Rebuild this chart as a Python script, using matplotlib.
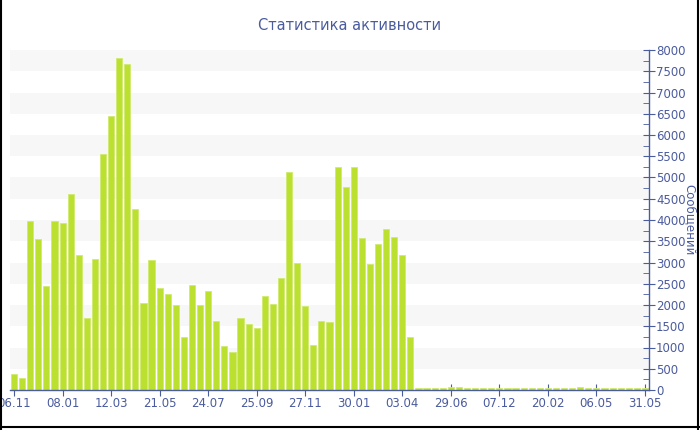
import matplotlib
matplotlib.use("Agg")
import matplotlib.pyplot as plt
from matplotlib.lines import Line2D
import numpy as np

# Message counts per period (79 periods)
messages = [
    370, 275, 3980, 3560, 2450, 3980, 3940, 4620, 3170, 1690,
    3075, 5550, 6450, 7810, 7670, 4250, 2040, 3055, 2410, 2270,
    2010, 1240, 2470, 1990, 2325, 1630, 1035, 905, 1695, 1545,
    1470, 2210, 2025, 2630, 5120, 2980, 1985, 1060, 1630, 1595,
    5240, 4770, 5240, 3570, 2960, 3430, 3780, 3610, 3170, 1240,
    40, 40, 40, 40, 80, 60, 40, 40, 40, 40,
    40, 40, 40, 40, 40, 40, 40, 40, 40, 40,
    60, 40, 40, 40, 40, 40, 40, 40, 40,
]
tick_labels = ["06.11", "08.01", "12.03", "21.05", "24.07", "25.09", "27.11",
               "30.01", "03.04", "29.06", "07.12", "20.02", "06.05", "31.05"]
title = "Статистика активности"
ylabel = "Сообщений"

W, H = 700, 430
fig = plt.figure(figsize=(7, 4.3), dpi=100)
fig.patch.set_facecolor("white")
ax_left, ax_right, ax_top, ax_bottom = 10, 649, 50, 390
ax = fig.add_axes([ax_left / W, 1 - ax_bottom / H, (ax_right - ax_left) / W,
                   (ax_bottom - ax_top) / H])

blue = "#4a5b9e"
bar_color = "#bce030"

n = len(messages)
x = np.arange(n)

ax.set_xlim(-0.5, n - 0.5)
ax.set_ylim(0, 8000)

# alternating bands
for lo in range(500, 8000, 1000):
    ax.axhspan(lo, lo + 500, color="#f7f7f7", zorder=0, lw=0)

ax.bar(x, messages, width=0.76, color=bar_color, edgecolor="#d0ea70",
       linewidth=0.6, zorder=2)

for s in ["left", "top"]:
    ax.spines[s].set_visible(False)
ax.spines["bottom"].set_color(blue)
ax.spines["right"].set_color(blue)
ax.spines["bottom"].set_linewidth(1)
ax.spines["right"].set_linewidth(1)
ax.set_facecolor("white")

ax.yaxis.tick_right()
ax.yaxis.set_label_position("right")
ax.set_yticks(np.arange(0, 8001, 500))
ax.set_yticks(np.arange(0, 8001, 250), minor=True)
ax.tick_params(axis="y", which="major", direction="inout", length=8,
               color=blue, labelcolor=blue, labelsize=8.5, pad=1)
ax.tick_params(axis="y", which="minor", direction="in", length=4, color=blue)

step = 6
ax.set_xticks(x[::step])
ax.set_xticklabels(tick_labels)
ax.tick_params(axis="x", direction="inout", length=8, color=blue,
               labelcolor=blue, labelsize=8.5, pad=1)

ax.set_ylabel(ylabel, color=blue, fontsize=8.5, rotation=-90, va="center",
              ha="center")
ax.yaxis.set_label_coords((690 - ax_left) / (ax_right - ax_left),
                          (ax_bottom - 220) / (ax_bottom - ax_top))

fig.text(350 / W, 1 - 25 / H, title, ha="center", va="center",
         color=blue, fontsize=10.5)

# outer frame (left, bottom, right)
fig.add_artist(Line2D([0.5 / W, 0.5 / W], [0, 1], color="black", lw=1.5,
                      transform=fig.transFigure))
fig.add_artist(Line2D([0, 1], [3.5 / H, 3.5 / H], color="black", lw=1.5,
                      transform=fig.transFigure))
fig.add_artist(Line2D([697.5 / W, 697.5 / W], [0, 1], color="black", lw=1.5,
                      transform=fig.transFigure))

fig.savefig("out.png", dpi=100, facecolor="white")
